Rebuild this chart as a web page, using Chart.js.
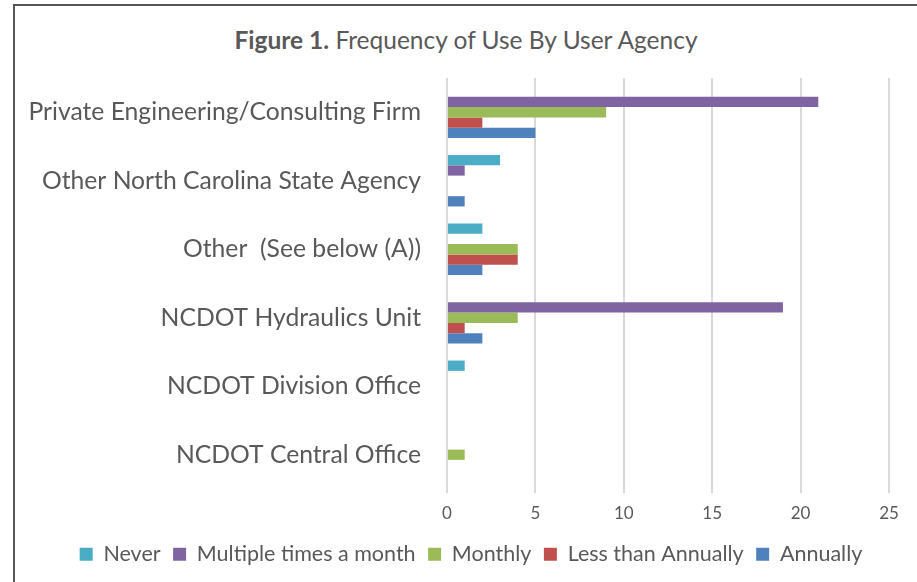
<!DOCTYPE html>
<html>
<head>
<meta charset="utf-8">
<script src="https://cdn.jsdelivr.net/npm/chart.js@4"></script>
<style>
  body { margin: 0; background: #fff; }
  #wrap { position: relative; width: 917px; height: 582px; overflow: hidden; }
  #frame { position: absolute; left: 13px; top: 4px; width: 920px; height: 600px;
           border-left: 2px solid #555; border-top: 2px solid #555; }
  #title { position: absolute; left: 0; width: 932px; top: 25px; line-height: 30px; text-align: center;
           font-family: Lato, sans-serif; font-size: 24.5px; color: #595959; }
  canvas { position: absolute; left: 0; top: 0; }
</style>
</head>
<body>
<div id="wrap">
  <div id="frame"></div>
  <div id="title"><b>Figure 1.</b> Frequency of Use By User Agency</div>
  <canvas id="chart" width="917" height="582"></canvas>
</div>
<script>
// categories, top to bottom as shown
const agencies = [
    'Private Engineering/Consulting Firm',
    'Other North Carolina State Agency',
    'Other  (See below (A))',
    'NCDOT Hydraulics Unit',
    'NCDOT Division Office',
    'NCDOT Central Office'
];

// series values per agency (same order as above)
const never = [0, 3, 2, 0, 1, 0];
const multipleTimesMonth = [21, 1, 0, 19, 0, 0];
const monthly = [9, 0, 4, 4, 0, 1];
const lessThanAnnually = [2, 0, 4, 1, 0, 0];
const annually = [5, 1, 2, 2, 0, 0];

const xTicks = [0, 5, 10, 15, 20, 25];

const textColor = '#595959';

// the legend in the original sits a bit right of centre
const legendShift = {
    id: 'legendShift',
    afterLayout(chart) {
        chart.legend.left += 20;
        chart.legend.right += 20;
    }
};

const ctx = document.getElementById('chart').getContext('2d');

new Chart(ctx, {
    type: 'bar',
    data: {
        labels: agencies,
        datasets: [
            { label: 'Never', data: never, backgroundColor: '#4BACC6' },
            { label: 'Multiple times a month', data: multipleTimesMonth, backgroundColor: '#8064A2' },
            { label: 'Monthly', data: monthly, backgroundColor: '#9BBB59' },
            { label: 'Less than Annually', data: lessThanAnnually, backgroundColor: '#C0504D' },
            { label: 'Annually', data: annually, backgroundColor: '#4F81BD' }
        ]
    },
    options: {
        indexAxis: 'y',
        responsive: false,
        animation: false,
        categoryPercentage: 0.75,
        barPercentage: 1,
        layout: {
            padding: { top: 78, left: 13, right: 28, bottom: 7 }
        },
        plugins: {
            legend: {
                position: 'bottom',
                labels: {
                    boxWidth: 13,
                    boxHeight: 13,
                    padding: 12.5,
                    color: textColor,
                    font: { family: 'Lato', size: 21.5 }
                }
            },
            tooltip: { enabled: false }
        },
        scales: {
            x: {
                min: xTicks[0],
                max: xTicks[xTicks.length - 1],
                afterFit: (axis) => { axis.height = 42; },
                ticks: {
                    stepSize: 5,
                    color: textColor,
                    padding: 10,
                    font: { family: 'Lato', size: 17 }
                },
                grid: { color: '#d9d9d9', lineWidth: 2, tickLength: 4, tickColor: '#d9d9d9' },
                border: { display: false }
            },
            y: {
                afterFit: (axis) => { axis.width = 434; },
                ticks: {
                    color: textColor,
                    padding: 26,
                    font: { family: 'Lato', size: 24.7 }
                },
                grid: { display: false, drawTicks: false },
                border: { display: false }
            }
        }
    },
    plugins: [legendShift]
});
</script>
</body>
</html>
